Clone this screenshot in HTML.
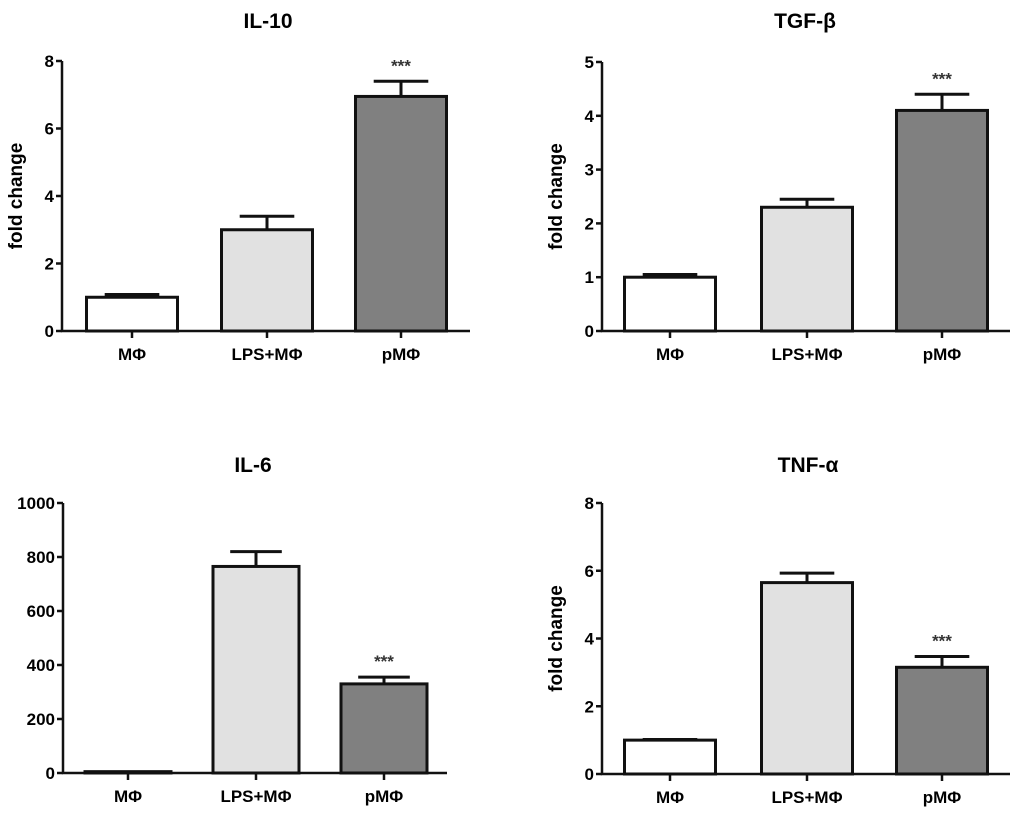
<!DOCTYPE html>
<html><head><meta charset="utf-8"><style>
html,body{margin:0;padding:0;background:#fff;}
svg{display:block;font-family:"Liberation Sans",Arial,sans-serif;font-weight:bold;}
</style></head><body>
<svg id="fig" width="1024" height="815" viewBox="0 0 1024 815"></svg>
<script>
const categories = ["MΦ","LPS+MΦ","pMΦ"];
const il10Values = [1.0, 3.0, 6.95];
const il10Errors = [0.08, 0.4, 0.45];
const il10Ticks = [0,2,4,6,8];
const tgfValues = [1.0, 2.3, 4.1];
const tgfErrors = [0.05, 0.15, 0.3];
const tgfTicks = [0,1,2,3,4,5];
const il6Values = [5, 765, 330];
const il6Errors = [0, 55, 25];
const il6Ticks = [0,200,400,600,800,1000];
const tnfValues = [1.0, 5.65, 3.15];
const tnfErrors = [0.02, 0.28, 0.32];
const tnfTicks = [0,2,4,6,8];
const significance = ["","","***"];
const fills = ["#ffffff","#e1e1e1","#808080"];

const NS="http://www.w3.org/2000/svg";
const svg=document.getElementById('fig');
function mk(tag,attrs,parent){const e=document.createElementNS(NS,tag);for(const k in attrs)e.setAttribute(k,attrs[k]);(parent||svg).appendChild(e);return e;}

function panel(cfg){
  const g=mk('g',{});
  
  
  const ymax=cfg.ticks[cfg.ticks.length-1];
  const y=v=>cfg.y0-(v/ymax)*(cfg.y0-cfg.yTop);
  const t=mk('text',{x:cfg.titleX,y:cfg.titleY,'text-anchor':'middle','font-size':21},g);
  t.textContent=cfg.title;
  
  
  if(cfg.ylabel){
    const yl=mk('text',{x:0,y:0,'text-anchor':'middle','font-size':19,transform:`translate(${cfg.ax-40},${(cfg.y0+cfg.yTop)/2}) rotate(-90)`},g);
    yl.textContent='fold change';
    
    
  }
  cfg.values.forEach((v,i)=>{
    const c=cfg.centers[i], w=cfg.bw;
    const top=y(v), bot=y(0);
    const eTop=y(v+cfg.errors[i]);
    if(cfg.errors[i]>0){
      const el=mk('path',{d:`M${c} ${top} V${eTop} M${c-w*0.3} ${eTop} H${c+w*0.3}`,stroke:'#111','stroke-width':3,fill:'none'},g);
      
      
    }
    const r=mk('rect',{x:c-w/2,y:top,width:w,height:Math.max(bot-top,0.5),fill:fills[i],stroke:'#111','stroke-width':3},g);
    
    
    if(significance[i]){
      const s=mk('text',{x:c,y:eTop-10,'text-anchor':'middle','font-size':17,fill:'#333'},g);
      s.textContent=significance[i];
      
      
    }
    const tk=mk('line',{x1:c,x2:c,y1:cfg.y0,y2:cfg.y0+7,stroke:'#111','stroke-width':2.5},g);
    
    
    const lb=mk('text',{x:c,y:cfg.y0+29,'text-anchor':'middle','font-size':17},g);
    lb.textContent=categories[i];
    
    
  });
  const axes=mk('path',{d:`M${cfg.ax} ${cfg.yTop} V${cfg.y0} H${cfg.axEnd}`,stroke:'#111','stroke-width':2.5,fill:'none'},g);
  
  
  cfg.ticks.forEach(tv=>{
    const ty=y(tv);
    const tl=mk('line',{x1:cfg.ax-6,x2:cfg.ax,y1:ty,y2:ty,stroke:'#111','stroke-width':2.5},g);
    
    
    const tt=mk('text',{x:cfg.ax-8,y:ty+6,'text-anchor':'end','font-size':17},g);
    tt.textContent=tv;
    
    
  });
}
panel({name:'il-10',title:'IL-10',titleX:268,titleY:28,values:il10Values,errors:il10Errors,ticks:il10Ticks,ax:62,axEnd:470,yTop:61,y0:331,centers:[132,267,401],bw:91,ylabel:true});
panel({name:'tgf-beta',title:'TGF-β',titleX:805,titleY:28,values:tgfValues,errors:tgfErrors,ticks:tgfTicks,ax:602,axEnd:1010,yTop:62,y0:331,centers:[670,807,942],bw:91,ylabel:true});
panel({name:'il-6',title:'IL-6',titleX:253,titleY:472,values:il6Values,errors:il6Errors,ticks:il6Ticks,ax:63,axEnd:447,yTop:503,y0:773,centers:[128,256,384],bw:86,ylabel:false});
panel({name:'tnf-alpha',title:'TNF-α',titleX:808,titleY:472,values:tnfValues,errors:tnfErrors,ticks:tnfTicks,ax:602,axEnd:1010,yTop:503,y0:774,centers:[670,807,942],bw:91,ylabel:true});
</script>
</body></html>
